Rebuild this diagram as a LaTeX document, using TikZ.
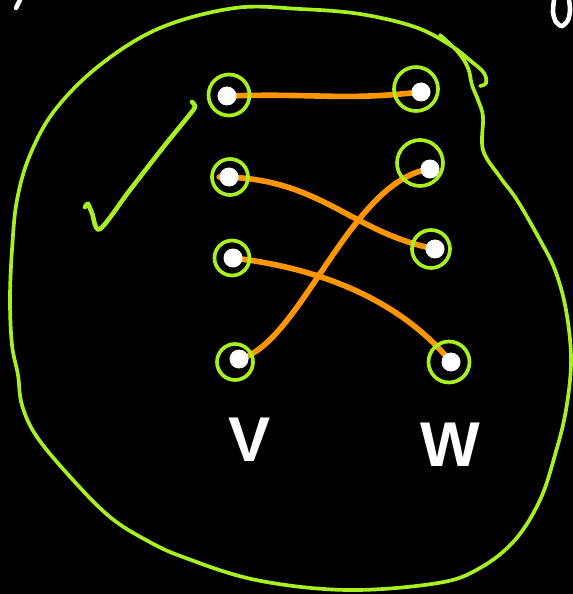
\documentclass[tikz,border=0pt]{standalone}
\usepackage{fontspec}
\setsansfont{Liberation Sans}
\usepackage{tikz}
\usetikzlibrary{positioning, backgrounds}
\definecolor{lime}{RGB}{168,240,30}
\definecolor{amber}{RGB}{255,150,0}

\begin{document}
\begin{tikzpicture}[
    x=0.02cm, y=-0.02cm,
    vertex/.style={circle, fill=white, inner sep=0pt, minimum size=0.38cm},
    ring/.style={circle, draw=lime, line width=2.1pt, inner sep=0pt},
    match/.style={draw=amber, line width=3.2pt, line cap=round},
    blob/.style={draw=lime, line width=2.1pt, line cap=round},
    chalk/.style={draw=white, line width=2.6pt, line cap=round},
    setname/.style={text=white, font=\sffamily\bfseries\fontsize{36}{40}\selectfont}
]

% Board
\begin{scope}[on background layer]
\fill[black] (0,0) rectangle (573,594);
\end{scope}
\useasboundingbox (0,0) rectangle (573,594);

% Outline of the graph
\draw[blob] plot[smooth, tension=0.6] coordinates {
    (440,35) (458,52) (468,68) (472,85) (478,100) (483,117) (483,150)
    (500,177) (517,200) (540,240) (555,270) (566,310) (571,360) (566,410)
    (555,455) (540,500) (515,540) (480,568) (438,583) (347,590) (256,580)
    (183,557) (146,540) (110,517) (73,480) (37,437) (22,405) (18,375)
    (12,345) (10,300) (12,250) (17,200) (30,155) (55,110) (100,65)
    (160,28) (235,8) (300,9) (360,14) (415,27) (450,45) (472,62)
    (484,73) (486,83) (480,86)};

% Tick
\draw[blob, line width=2.6pt] plot[smooth, tension=0.5] coordinates {
    (85,207) (88,204) (92,213) (100,229) (130,190) (165,145) (191,113)
    (195,106) (192,102)};

% Left side
\node[vertex] (v1) at (227,96) {};
\node[vertex] (v2) at (229,177) {};
\node[vertex] (v3) at (233,258) {};
\node[vertex] (v4) at (239,359) {};

% Right side
\node[vertex] (w1) at (421,92) {};
\node[vertex] (w2) at (430,169) {};
\node[vertex] (w3) at (435,249) {};
\node[vertex] (w4) at (451,362) {};

% Rings
\node[ring, minimum size=0.82cm] (rv1) at (229,95) {};
\node[ring, minimum size=0.72cm] (rv2) at (230,177) {};
\node[ring, minimum size=0.70cm] (rv3) at (232,258) {};
\node[ring, minimum size=0.72cm] (rv4) at (235,362) {};
\node[ring, minimum size=0.88cm] (rw1) at (416,89) {};
\node[ring, minimum size=0.92cm] (rw2) at (420,163) {};
\node[ring, minimum size=0.76cm] (rw3) at (431,249) {};
\node[ring, minimum size=0.82cm] (rw4) at (449,362) {};

% Matching
\begin{scope}[on background layer]
\draw[match] (v1.center) .. controls (320,93) and (340,101) .. (w1.center);
\draw[match] (v2.west) .. controls (320,177) and (350,232) .. (w3.center);
\draw[match] (v3.center) .. controls (320,268) and (400,300) .. (w4.center);
\draw[match] (v4.center) .. controls (300,345) and (350,180) .. (w2.center);
\end{scope}

% Set names
\node[setname] (vset) at (250,440) {V};
\node[setname] (wset) at (450,445) {W};

% Scraps at the edges
\draw[chalk] (16,8) -- (20,0);
\draw[chalk] plot[smooth] coordinates {
    (554,0) (553,12) (556,22) (562,26) (568,20) (570,10) (569,0)};

\end{tikzpicture}
\end{document}
